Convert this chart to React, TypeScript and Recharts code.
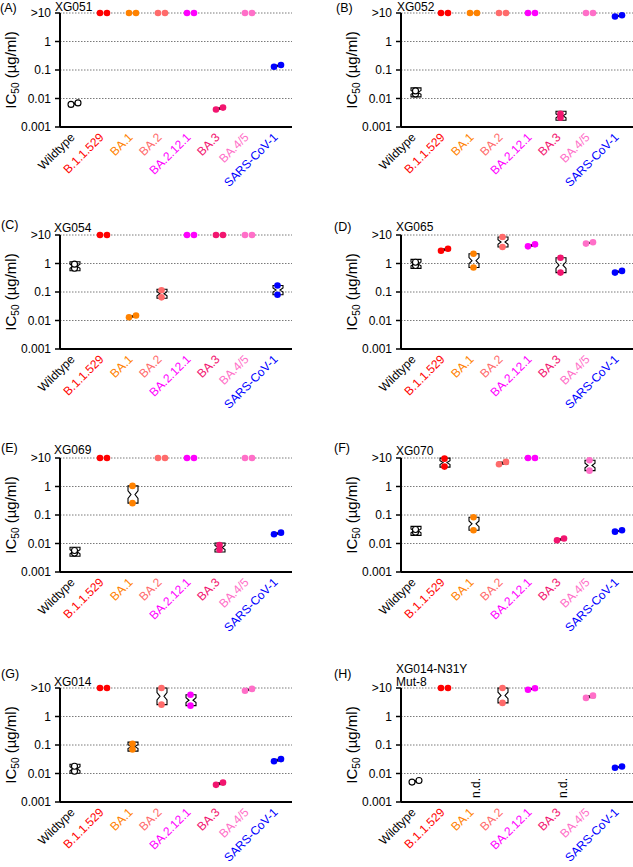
import React from 'react';
import { ComposedChart, Scatter, Bar, XAxis, YAxis, CartesianGrid } from 'recharts';

// ---------- data ----------
const CATEGORIES = ['Wildtype', 'B.1.1.529', 'BA.1', 'BA.2', 'BA.2.12.1', 'BA.3', 'BA.4/5', 'SARS-CoV-1'];
const CATEGORY_COLORS = ['#000000', '#FF0000', '#FF8200', '#FF6B6B', '#FF00FF', '#F2156F', '#FF6FC8', '#0000FF'];
const Y_TICKS = [0.001, 0.01, 0.1, 1, 10];

// replicate 1 / replicate 2 IC50 (µg/ml); 10 = ">10"; null = n.d.
const XG051_REP1 = [0.0062, 10, 10, 10, 10, 0.0041, 10, 0.13];
const XG051_REP2 = [0.0070, 10, 10, 10, 10, 0.0048, 10, 0.15];
const XG052_REP1 = [0.0145, 10, 10, 10, 10, 0.0021, 10, 7.5];
const XG052_REP2 = [0.0185, 10, 10, 10, 10, 0.0029, 10, 8.3];
const XG054_REP1 = [0.68, 10, 0.013, 0.065, 10, 10, 10, 0.08];
const XG054_REP2 = [0.95, 10, 0.015, 0.115, 10, 10, 10, 0.17];
const XG065_REP1 = [0.85, 2.8, 0.72, 3.8, 4.0, 0.48, 5.0, 0.48];
const XG065_REP2 = [1.1, 3.3, 2.2, 8.5, 4.7, 1.6, 5.6, 0.55];
const XG069_REP1 = [0.0046, 10, 0.26, 10, 10, 0.006, 10, 0.021];
const XG069_REP2 = [0.0057, 10, 1.05, 10, 10, 0.0088, 10, 0.024];
const XG070_REP1 = [0.025, 5.0, 0.029, 6.0, 10, 0.013, 3.6, 0.026];
const XG070_REP2 = [0.031, 9.5, 0.083, 7.3, 10, 0.015, 8.3, 0.029];
const XG014_REP1 = [0.012, 10, 0.07, 2.6, 2.4, 0.004, 8.0, 0.027];
const XG014_REP2 = [0.018, 10, 0.11, 10, 5.8, 0.0048, 9.3, 0.032];
const XG014M_REP1 = [0.005, 10, null, 3.0, 8.7, null, 4.5, 0.016];
const XG014M_REP2 = [0.0057, 10, null, 10, 9.8, null, 5.4, 0.0175];

const ND_MARK = 0.00138;
const SPREAD_LIMIT = 0.09; // decades: closer pairs are drawn side by side

// ---------- layout ----------
const FONT = '"Liberation Sans", Arial, Helvetica, sans-serif';
const CHART_W = 292;
const CHART_H = 220;
const MARGIN_TOP = 13;
const PLOT_H = 114;

const PANELS = [
  { letter: '(A)', title: ['XG051'], rep1: XG051_REP1, rep2: XG051_REP2, left: 0, top: 0, lx: 0, ly: 8, tx: 55, ty: [7] },
  { letter: '(B)', title: ['XG052'], rep1: XG052_REP1, rep2: XG052_REP2, left: 341, top: 0, lx: 336, ly: 8, tx: 397, ty: [7] },
  { letter: '(C)', title: ['XG054'], rep1: XG054_REP1, rep2: XG054_REP2, left: 0, top: 222, lx: 1, ly: 225, tx: 54, ty: [228] },
  { letter: '(D)', title: ['XG065'], rep1: XG065_REP1, rep2: XG065_REP2, left: 341, top: 222, lx: 334, ly: 227, tx: 396, ty: [227] },
  { letter: '(E)', title: ['XG069'], rep1: XG069_REP1, rep2: XG069_REP2, left: 0, top: 445, lx: 1, ly: 448, tx: 54, ty: [450] },
  { letter: '(F)', title: ['XG070'], rep1: XG070_REP1, rep2: XG070_REP2, left: 341, top: 445, lx: 334, ly: 448, tx: 396, ty: [451] },
  { letter: '(G)', title: ['XG014'], rep1: XG014_REP1, rep2: XG014_REP2, left: 0, top: 675, lx: 1, ly: 674, tx: 54, ty: [682] },
  { letter: '(H)', title: ['XG014-N31Y', 'Mut-8'], rep1: XG014M_REP1, rep2: XG014M_REP2, left: 341, top: 675, lx: 334, ly: 674, tx: 396, ty: [669, 682] },
];

function buildRows(rep1: (number | null)[], rep2: (number | null)[]) {
  return CATEGORIES.map((name, i) => {
    const a = rep1[i];
    const b = rep2[i];
    const has = a != null && b != null;
    const lo = has ? Math.min(a as number, b as number) : null;
    const hi = has ? Math.max(a as number, b as number) : null;
    const spread = has && Math.abs(Math.log10((b as number) / (a as number))) < SPREAD_LIMIT;
    return {
      name,
      idx: i,
      r1: a,
      r2: b,
      range: has && lo !== hi ? [lo, hi] : null,
      spread,
      nd: a == null ? ND_MARK : null,
    };
  });
}

const makeDot = (side: 1 | 2) => (props: any) => {
  const { cx, cy, payload } = props;
  const v = side === 1 ? payload.r1 : payload.r2;
  if (v == null || cx == null || cy == null || isNaN(cy)) return <g />;
  const dx = payload.spread ? (side === 1 ? -3.5 : 3.5) : 0;
  const open = payload.idx === 0;
  return (
    <circle
      cx={cx + dx}
      cy={cy}
      r={open ? 3 : 3.3}
      fill={open ? '#ffffff' : CATEGORY_COLORS[payload.idx]}
      stroke={open ? '#000000' : 'none'}
      strokeWidth={1.1}
    />
  );
};
const Dot1 = makeDot(1);
const Dot2 = makeDot(2);

const BoxShape = (props: any) => {
  const { x, y, width, height, payload } = props;
  if (!payload || !payload.range || x == null || y == null) return <g />;
  let top = y;
  let h = height;
  if (h < 0) {
    top = y + h;
    h = -h;
  }
  const x0 = x;
  const x1 = x + width;
  const mid = top + h / 2;
  if (payload.spread) {
    const hh = Math.max(h, 1.4);
    return <rect x={x0} y={mid - hh / 2} width={width} height={hh} fill="#000" stroke="#000" strokeWidth={0.6} />;
  }
  const hb = Math.max(h, 9);
  const t = mid - hb / 2;
  const bot = mid + hb / 2;
  const n = hb * 0.22;
  const inset = width * 0.3;
  const d = `M${x0},${t} L${x1},${t} L${x1},${mid - n} L${x1 - inset},${mid} L${x1},${mid + n} L${x1},${bot} L${x0},${bot} L${x0},${mid + n} L${x0 + inset},${mid} L${x0},${mid - n} Z`;
  return <path d={d} fill="none" stroke="#000" strokeWidth={1.1} />;
};

const NdShape = (props: any) => {
  const { cx, cy, payload } = props;
  if (!payload || payload.nd == null || cx == null || cy == null) return <g />;
  const x = cx + 7;
  return (
    <text x={x} y={cy} transform={`rotate(-90, ${x}, ${cy})`} textAnchor="start" fontSize={12} fontFamily={FONT} fill="#000">
      n.d.
    </text>
  );
};

const XTick = (props: any) => {
  const { x, payload } = props;
  const idx = CATEGORIES.indexOf(payload.value);
  const tx = x + 1;
  const ty = MARGIN_TOP + PLOT_H + 11;
  return (
    <text x={tx} y={ty} transform={`rotate(-45, ${tx}, ${ty})`} textAnchor="end" fontSize={12} fontFamily={FONT} fill={CATEGORY_COLORS[idx]}>
      {payload.value}
    </text>
  );
};

const yFmt = (v: number) => (v === 10 ? '>10' : String(v));

function Panel({ rep1, rep2 }: { rep1: (number | null)[]; rep2: (number | null)[] }) {
  const rows = buildRows(rep1, rep2);
  return (
    <ComposedChart width={CHART_W} height={CHART_H} data={rows} margin={{ top: MARGIN_TOP, right: 0, bottom: 0, left: 0 }} style={{ fontFamily: FONT, overflow: 'visible' }}>
      <CartesianGrid vertical={false} stroke="#7a7a7a" strokeDasharray="1.5 1.5" strokeWidth={1} />
      <XAxis
        dataKey="name"
        type="category"
        interval={0}
        height={CHART_H - MARGIN_TOP - PLOT_H}
        axisLine={{ stroke: '#000', strokeWidth: 2 }}
        tickLine={false}
        tickSize={0}
        tickMargin={0}
        tick={<XTick />}
      />
      <YAxis
        type="number"
        scale="log"
        domain={[0.001, 10]}
        ticks={Y_TICKS}
        tickFormatter={yFmt}
        width={60}
        axisLine={{ stroke: '#000', strokeWidth: 2 }}
        tickLine={{ stroke: '#000', strokeWidth: 1.5 }}
        tickSize={5}
        tickMargin={4}
        tick={{ fill: '#000', fontSize: 12, fontFamily: FONT }}
      />
      <Bar dataKey="range" barSize={10} shape={BoxShape} isAnimationActive={false} />
      <Scatter dataKey="r1" shape={Dot1} isAnimationActive={false} />
      <Scatter dataKey="r2" shape={Dot2} isAnimationActive={false} />
      <Scatter dataKey="nd" shape={NdShape} isAnimationActive={false} />
    </ComposedChart>
  );
}

export default function App() {
  return (
    <div style={{ position: 'absolute', left: 0, top: 0, width: 633, height: 867, overflow: 'hidden', background: '#fff', fontFamily: FONT }}>
      {PANELS.map((p) => (
        <div key={p.letter} style={{ position: 'absolute', left: p.left, top: p.top, width: CHART_W, height: CHART_H }}>
          <Panel rep1={p.rep1} rep2={p.rep2} />
        </div>
      ))}
      <svg width={633} height={867} style={{ position: 'absolute', left: 0, top: 0, pointerEvents: 'none' }}>
        {PANELS.map((p) => {
          const yTop = p.top + MARGIN_TOP;
          const ly = yTop + PLOT_H / 2;
          const lx = p.left + 16;
          return (
            <g key={p.letter} fontFamily={FONT} fill="#000">
              <text x={p.lx} y={p.ly + 4.3} fontSize={12.5}>{p.letter}</text>
              {p.title.map((t, i) => (
                <text key={t} x={p.tx} y={p.ty[i] + 4.3} fontSize={12}>{t}</text>
              ))}
              <text x={lx} y={ly} transform={`rotate(-90, ${lx}, ${ly})`} textAnchor="middle" fontSize={15}>
                IC
                <tspan fontSize={10} dy={3}>50</tspan>
                <tspan dy={-3}> (µg/ml)</tspan>
              </text>
            </g>
          );
        })}
      </svg>
    </div>
  );
}
